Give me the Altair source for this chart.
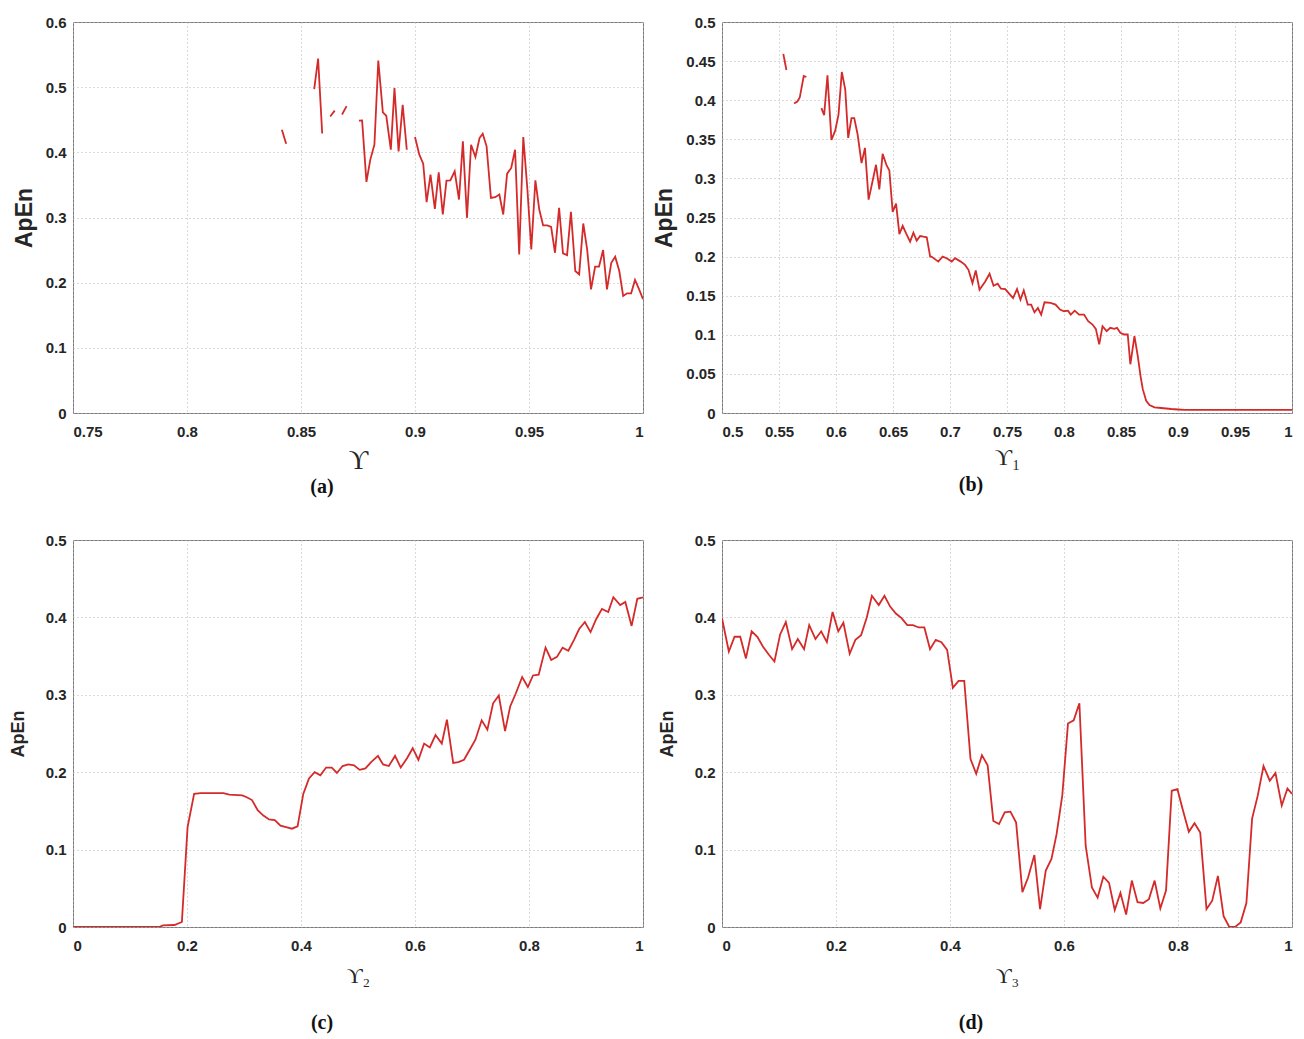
import altair as alt
import pandas as pd

RED = "#d42a2a"

# ---------------- panel (a): None marks a gap in the curve ----------------
A_X = [0.8416, 0.8435, None,
       0.8558, 0.8575, 0.8593, None,
       0.8628, 0.8648, None,
       0.8680, 0.8700, None,
       0.8754, 0.8768, 0.8787, 0.8804, 0.8822, 0.8839, 0.8859, 0.8874, 0.8894,
       0.8910, 0.8928, 0.8946, 0.8964, None,
       0.9000, 0.9019, 0.9036, 0.9051, 0.9068, 0.9087, 0.9104, 0.9122, 0.9138,
       0.9155, 0.9174, 0.9193, 0.9210, 0.9228, 0.9246, 0.9265, 0.9283, 0.9297,
       0.9314, 0.9333, 0.9352, 0.9370, 0.9387, 0.9404, 0.9422, 0.9439, 0.9457,
       0.9475, 0.9493, 0.9510, 0.9528, 0.9545, 0.9562, 0.9580, 0.9597, 0.9614,
       0.9632, 0.9649, 0.9667, 0.9684, 0.9703, 0.9720, 0.9738, 0.9755, 0.9772,
       0.9790, 0.9807, 0.9825, 0.9842, 0.9861, 0.9878, 0.9896, 0.9913, 0.9930,
       0.9948, 0.9965, 0.9983, 1.0000]
A_Y = [0.4347, 0.4133, None,
       0.497, 0.544, 0.429, None,
       0.455, 0.464, None,
       0.458, 0.471, None,
       0.4485, 0.449, 0.3546, 0.3888, 0.4117, 0.5408, 0.4612, 0.4561, 0.4041,
       0.4985, 0.4015, 0.473, 0.404, None,
       0.4235, 0.3964, 0.3827, 0.3235, 0.3658, 0.3133, 0.3694, 0.3046, 0.3566,
       0.3571, 0.3709, 0.3276, 0.4168, 0.2995, 0.4117, 0.3929, 0.4219, 0.4286,
       0.4092, 0.3301, 0.3311, 0.3352, 0.3046, 0.3673, 0.3760, 0.4041, 0.2434,
       0.4235, 0.3429, 0.2510, 0.3571, 0.3122, 0.2878, 0.2878, 0.2857, 0.2459,
       0.3148, 0.2449, 0.2423, 0.3087, 0.2179, 0.2128, 0.2908, 0.2510, 0.1898,
       0.2245, 0.2245, 0.2500, 0.1898, 0.2306, 0.2398, 0.2179, 0.1796, 0.1837,
       0.1837, 0.2041, 0.1898, 0.1745]

# ---------------- panel (b) ----------------
B_X = [0.5538, 0.5565, None,
       0.5632, 0.5661, 0.5682, 0.5717, 0.5740, None,
       0.5872, 0.5896, 0.5925, 0.5960, 0.5993, 0.6022, 0.6051, 0.6081, 0.6107,
       0.6136, 0.6160, 0.6189, 0.6224, 0.6254, 0.6286, 0.6321, 0.6351, 0.6380,
       0.6409, 0.6444, 0.6468, 0.6497, 0.6527, 0.6556, 0.6585, 0.6615, 0.6650,
       0.6679, 0.6708, 0.6738, 0.6767, 0.6796, 0.6826, 0.6838, 0.6897, 0.6935,
       0.6971, 0.7015, 0.7044, 0.7094, 0.7132, 0.7162, 0.7197, 0.7226, 0.7259,
       0.7309, 0.7347, 0.7382, 0.7418, 0.7447, 0.7485, 0.7515, 0.7553, 0.7588,
       0.7618, 0.7647, 0.7682, 0.7712, 0.7741, 0.7771, 0.7800, 0.7829, 0.7882,
       0.7926, 0.7965, 0.8000, 0.8035, 0.8059, 0.8094, 0.8132, 0.8176, 0.8212,
       0.8250, 0.8279, 0.8309, 0.8338, 0.8374, 0.8406, 0.8441, 0.8465, 0.8494,
       0.8529, 0.8559, 0.8582, 0.8618, 0.8647, 0.8671, 0.8691, 0.8721, 0.8750,
       0.8794, 0.8853, 0.8941, 0.9000, 0.9059, 0.9235, 0.9529, 1.0000]
B_Y = [0.4593, 0.4386, None,
       0.3958, 0.3983, 0.4034, 0.4309, 0.4297, None,
       0.3898, 0.3809, 0.4318, 0.3492, 0.3610, 0.3814, 0.4360, 0.4140, 0.3517,
       0.3771, 0.3771, 0.3568, 0.3195, 0.3390, 0.2729, 0.2966, 0.3174, 0.2860,
       0.3314, 0.3165, 0.3102, 0.2572, 0.2678, 0.2288, 0.2394, 0.2297, 0.2191,
       0.2305, 0.2204, 0.2263, 0.2254, 0.2246, 0.2000, 0.2000, 0.1936, 0.2000,
       0.1979, 0.1936, 0.1979, 0.1936, 0.1894, 0.1831, 0.1661, 0.1822, 0.1576,
       0.1682, 0.1780, 0.1627, 0.1653, 0.1589, 0.1585, 0.1534, 0.1470, 0.1585,
       0.1449, 0.1568, 0.1386, 0.1386, 0.1288, 0.1343, 0.1258, 0.1415, 0.1407,
       0.1386, 0.1322, 0.1301, 0.1309, 0.1258, 0.1309, 0.1258, 0.1258, 0.1174,
       0.1131, 0.1076, 0.0877, 0.1110, 0.1047, 0.1089, 0.1076, 0.1089, 0.1025,
       0.1004, 0.1004, 0.0623, 0.0983, 0.0729, 0.0475, 0.0305, 0.0157, 0.0102,
       0.0072, 0.0064, 0.0051, 0.0045, 0.0040, 0.0040, 0.0040, 0.0040]

# ---------------- panel (c) ----------------
C_X = [0.0, 0.151, 0.158, 0.178, 0.191, 0.201, 0.2125, 0.224, 0.264, 0.274,
       0.297, 0.304, 0.314, 0.324, 0.334, 0.344, 0.354, 0.364, 0.374, 0.384,
       0.394, 0.404, 0.414, 0.424, 0.434, 0.444, 0.454, 0.463, 0.473, 0.483,
       0.493, 0.503, 0.513, 0.523, 0.535, 0.544, 0.554, 0.565, 0.575, 0.586,
       0.596, 0.606, 0.616, 0.626, 0.636, 0.647, 0.656, 0.667, 0.676, 0.686,
       0.696, 0.706, 0.717, 0.727, 0.737, 0.747, 0.758, 0.767, 0.777, 0.788,
       0.798, 0.807, 0.817, 0.829, 0.839, 0.849, 0.859, 0.869, 0.879, 0.888,
       0.898, 0.908, 0.918, 0.928, 0.939, 0.948, 0.960, 0.969, 0.980, 0.990,
       1.0]
C_Y = [0.0, 0.0, 0.002, 0.0026, 0.0065, 0.129, 0.172, 0.173, 0.173, 0.171,
       0.170, 0.168, 0.164, 0.151, 0.144, 0.139, 0.138, 0.131, 0.129, 0.127,
       0.130, 0.172, 0.192, 0.200, 0.196, 0.206, 0.206, 0.199, 0.208, 0.210,
       0.209, 0.203, 0.205, 0.213, 0.221, 0.210, 0.208, 0.221, 0.206, 0.218,
       0.231, 0.216, 0.237, 0.232, 0.248, 0.237, 0.268, 0.212, 0.213, 0.216,
       0.229, 0.242, 0.267, 0.255, 0.289, 0.299, 0.253, 0.285, 0.302, 0.323,
       0.310, 0.325, 0.326, 0.361, 0.345, 0.349, 0.361, 0.357, 0.371, 0.385,
       0.394, 0.381, 0.398, 0.411, 0.407, 0.426, 0.416, 0.420, 0.389, 0.424,
       0.426]

# ---------------- panel (d) ----------------
D_X = [0.0, 0.012, 0.022, 0.032, 0.042, 0.052, 0.062, 0.072, 0.082, 0.092,
       0.102, 0.112, 0.123, 0.133, 0.144, 0.153, 0.164, 0.174, 0.184, 0.194,
       0.204, 0.213, 0.224, 0.234, 0.244, 0.254, 0.263, 0.275, 0.285, 0.295,
       0.305, 0.315, 0.325, 0.335, 0.345, 0.355, 0.365, 0.375, 0.385, 0.395,
       0.405, 0.415, 0.425, 0.436, 0.446, 0.456, 0.466, 0.476, 0.486, 0.496,
       0.506, 0.516, 0.527, 0.537, 0.548, 0.558, 0.568, 0.578, 0.587, 0.597,
       0.607, 0.617, 0.627, 0.638, 0.649, 0.659, 0.669, 0.679, 0.689, 0.699,
       0.709, 0.719, 0.729, 0.739, 0.749, 0.759, 0.769, 0.779, 0.789, 0.799,
       0.809, 0.819, 0.829, 0.839, 0.850, 0.860, 0.870, 0.880, 0.890, 0.900,
       0.910, 0.920, 0.930, 0.940, 0.950, 0.961, 0.971, 0.982, 0.992, 1.0]
D_Y = [0.399, 0.356, 0.375, 0.375, 0.347, 0.382, 0.375, 0.362, 0.352, 0.343,
       0.378, 0.394, 0.359, 0.372, 0.359, 0.390, 0.372, 0.382, 0.368, 0.407,
       0.382, 0.393, 0.353, 0.371, 0.377, 0.400, 0.428, 0.416, 0.428, 0.414,
       0.405, 0.399, 0.390, 0.390, 0.387, 0.387, 0.359, 0.371, 0.368, 0.358,
       0.309, 0.318, 0.318, 0.217, 0.198, 0.222, 0.209, 0.137, 0.133, 0.148,
       0.149, 0.135, 0.045, 0.064, 0.093, 0.023, 0.073, 0.088, 0.120, 0.170,
       0.263, 0.267, 0.289, 0.105, 0.051, 0.038, 0.065, 0.057, 0.022, 0.044,
       0.016, 0.060, 0.032, 0.031, 0.036, 0.060, 0.024, 0.047, 0.176, 0.178,
       0.150, 0.123, 0.134, 0.122, 0.023, 0.034, 0.066, 0.014, 0.000, 0.000,
       0.006, 0.031, 0.140, 0.170, 0.208, 0.189, 0.199, 0.157, 0.179, 0.172]

# ---------------- axis ticks ----------------
A_XT = [0.75, 0.8, 0.85, 0.9, 0.95, 1.0]
A_YT = [0, 0.1, 0.2, 0.3, 0.4, 0.5, 0.6]
B_XT = [0.5, 0.55, 0.6, 0.65, 0.7, 0.75, 0.8, 0.85, 0.9, 0.95, 1.0]
B_YT = [0, 0.05, 0.1, 0.15, 0.2, 0.25, 0.3, 0.35, 0.4, 0.45, 0.5]
CD_XT = [0, 0.2, 0.4, 0.6, 0.8, 1.0]
CD_YT = [0, 0.1, 0.2, 0.3, 0.4, 0.5]


def frame(xs, ys):
    rows, seg = [], 0
    for x, y in zip(xs, ys):
        if x is None or y is None:
            seg += 1
            continue
        rows.append({"x": x, "y": y, "seg": seg})
    return pd.DataFrame(rows)


SANS = "Liberation Sans"
SERIF = "Liberation Serif, DejaVu Serif, serif"


def panel(df, xdom, xt, ydom, yt, xtitle, xtsize, xtpad, ytsize, ytpad,
          caption, capoff, w, h):
    return alt.Chart(df).mark_line(color=RED, strokeWidth=1.8, clip=True).encode(
        x=alt.X("x:Q",
                scale=alt.Scale(domain=xdom, nice=False, zero=False),
                axis=alt.Axis(values=xt, format="~g", title=xtitle,
                              titleFont=SERIF, titleFontSize=xtsize,
                              titleFontWeight="normal", titlePadding=xtpad)),
        y=alt.Y("y:Q",
                scale=alt.Scale(domain=ydom, nice=False, zero=False),
                axis=alt.Axis(values=yt, format="~g", title="ApEn",
                              titleFont=SANS, titleFontSize=ytsize,
                              titleFontWeight="bold", titlePadding=ytpad)),
        detail="seg:N",
        order="x:Q",
    ).properties(
        width=w, height=h,
        title=alt.TitleParams(caption, orient="bottom", frame="group",
                              offset=capoff, font=SERIF, fontSize=20,
                              fontWeight="bold", color="#111111", dx=-36),
    )


pa = panel(frame(A_X, A_Y), [0.75, 1.0], A_XT, [0, 0.6], A_YT, "ϒ", 27, 8,
           23, 9, "(a)", 4, 570, 391)
pb = panel(frame(B_X, B_Y), [0.5, 1.0], B_XT, [0, 0.5], B_YT, "ϒ₁", 24, 6,
           23, 9, "(b)", 6, 570, 391)
pc = panel(frame(C_X, C_Y), [0, 1.0], CD_XT, [0, 0.5], CD_YT, "ϒ₂", 22, 12,
           18, 18, "(c)", 27, 570, 387)
pd_ = panel(frame(D_X, D_Y), [0, 1.0], CD_XT, [0, 0.5], CD_YT, "ϒ₃", 22, 12,
            18, 18, "(d)", 27, 570, 387)

chart = alt.concat(
    pa, pb, pc, pd_, columns=2, bounds="flush",
    spacing={"row": 127, "column": 79},
).properties(
    padding={"left": 8, "top": 14, "right": 6, "bottom": 6},
    background="white",
).configure_view(
    stroke="#7a7a7a", strokeWidth=1,
).configure_axis(
    grid=True, gridColor="#b4b4b4", gridDash=[1, 3], gridWidth=1,
    domain=False, ticks=False,
    labelFont=SANS, labelFontWeight="bold", labelFontSize=15,
    labelColor="#262626", labelPadding=7, titleColor="#262626",
).configure_axisX(labelPadding=11)

chart.save("out.html", embed_options={"renderer": "svg", "actions": False})
